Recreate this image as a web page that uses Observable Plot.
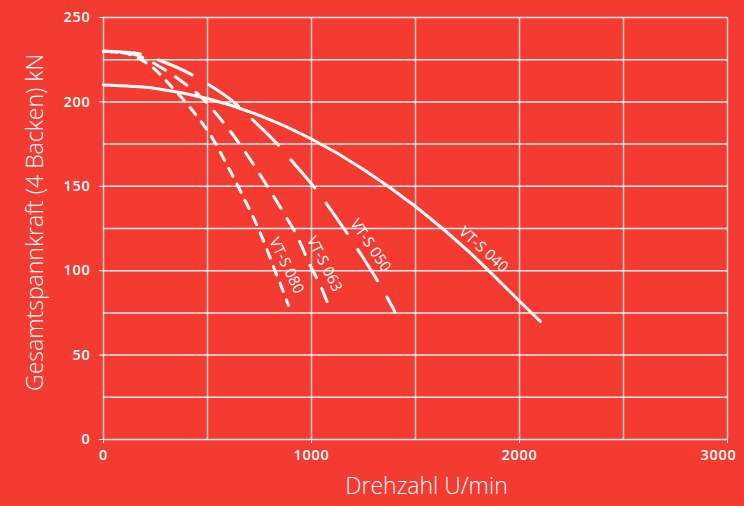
<!DOCTYPE html>
<html>
<head>
<meta charset="utf-8">
<script src="https://cdn.jsdelivr.net/npm/d3@7"></script>
<script src="https://cdn.jsdelivr.net/npm/@observablehq/plot@0.6"></script>
<style>
  html, body { margin: 0; padding: 0; background: #f33b32; }
  #chart svg { display: block; }
  #chart g[aria-label$="tick label"] text { letter-spacing: 0.7px; }
</style>
</head>
<body>
<div id="chart"></div>
<script>
// Tick / grid values
const xTicks = [0, 1000, 2000, 3000];
const yTicks = [0, 50, 100, 150, 200, 250];
const xGrid = [0, 500, 1000, 1500, 2000, 2500, 3000];
const yGrid = [0, 25, 50, 75, 100, 125, 150, 175, 200, 225, 250];

// Series: rotational speed (U/min) and total clamping force (kN)
const rpm040 = [0, 250, 500, 750, 1000, 1250, 1500, 1750, 2000, 2100];
const force040 = [210, 208, 202, 192, 178, 160, 138, 112, 82, 70];

const rpm050 = [0, 150, 260, 433, 505, 635, 721, 851, 913, 1029, 1082, 1183, 1236, 1332, 1400];
const force050 = [230, 229, 225, 215.6, 210.3, 199, 189, 173, 164, 147, 138, 120, 110, 91, 76];

const rpm063 = [0, 150, 260, 370, 476, 562, 649, 726, 793, 865, 937, 990, 1040, 1077];
const force063 = [230, 228, 221.6, 212.7, 202, 190, 176, 162, 149, 134.5, 119, 104, 92, 81];

const rpm080 = [0, 100, 180, 250, 312, 404, 462, 514, 558, 601, 639, 683, 721, 755, 788, 820, 851, 889];
const force080 = [230, 229, 225, 219, 211, 198.5, 189.5, 180.5, 171, 161, 152, 141, 131.5, 122, 112, 101.5, 92, 79.5];

// Curve labels (position in data units)
const labelText = ["VT-S 040", "VT-S 050", "VT-S 063", "VT-S 080"];
const labelRpm = [1827, 1284, 1062, 880];
const labelForce = [112.6, 115, 104, 103];

const xTitle = "Drehzahl U/min";
const yTitle = "Gesamtspannkraft (4 Backen) kN";

const toRows = (xs, ys) => xs.map((x, i) => ({x, y: ys[i]}));
const s040 = toRows(rpm040, force040);
const s050 = toRows(rpm050, force050);
const s063 = toRows(rpm063, force063);
const s080 = toRows(rpm080, force080);
const labels = labelText.map((t, i) => ({text: t, x: labelRpm[i], y: labelForce[i]}));
const rotations = [42, 56, 63, 64];

const lineOpts = {x: "x", y: "y", stroke: "white", strokeWidth: 3, curve: "monotone-x"};

const chart = Plot.plot({
  width: 744,
  height: 506,
  marginLeft: 103,
  marginRight: 17,
  marginTop: 17,
  marginBottom: 67,
  style: {background: "#f33b32", color: "white", fontFamily: "'Open Sans', sans-serif", fontSize: "14.5px", fontWeight: 600},
  x: {domain: [0, 3000], ticks: xTicks, tickFormat: d => String(d), tickSize: 4, tickPadding: 6, label: null},
  y: {domain: [0, 250], ticks: yTicks, tickFormat: d => String(d), tickSize: 4, tickPadding: 9, label: null},
  marks: [
    Plot.ruleX(xGrid, {stroke: "white", strokeOpacity: 0.75, strokeWidth: 1.5}),
    Plot.ruleY(yGrid, {stroke: "white", strokeOpacity: 0.9, strokeWidth: 1.5}),
    Plot.line(s040, {...lineOpts}),
    Plot.line(s050, {...lineOpts, strokeDasharray: "37,19"}),
    Plot.line(s063, {...lineOpts, strokeDasharray: "14,12"}),
    Plot.line(s080, {...lineOpts, strokeDasharray: "9,9"}),
    ...labels.map((d, i) => Plot.text([d], {x: "x", y: "y", text: "text", rotate: rotations[i], fill: "white", fontSize: 15, fontWeight: 400})),
    Plot.text([yTitle], {text: d => d, frameAnchor: "left", textAnchor: "middle", dx: -68, dy: -6, rotate: -90, fill: "white", fontSize: 23, fontWeight: 300}),
    Plot.text([xTitle], {text: d => d, frameAnchor: "bottom", textAnchor: "middle", dx: 11, dy: 54, fill: "white", fontSize: 23, fontWeight: 300})
  ]
});
// keep the last x tick label inside the picture, as in the reference
const xLabels = d3.select(chart).selectAll('g[aria-label="x-axis tick label"] text');
if (xLabels.size()) {
  d3.select(xLabels.nodes()[xLabels.size() - 1]).attr("dx", -9);
}
document.getElementById("chart").appendChild(chart);
</script>
</body>
</html>
